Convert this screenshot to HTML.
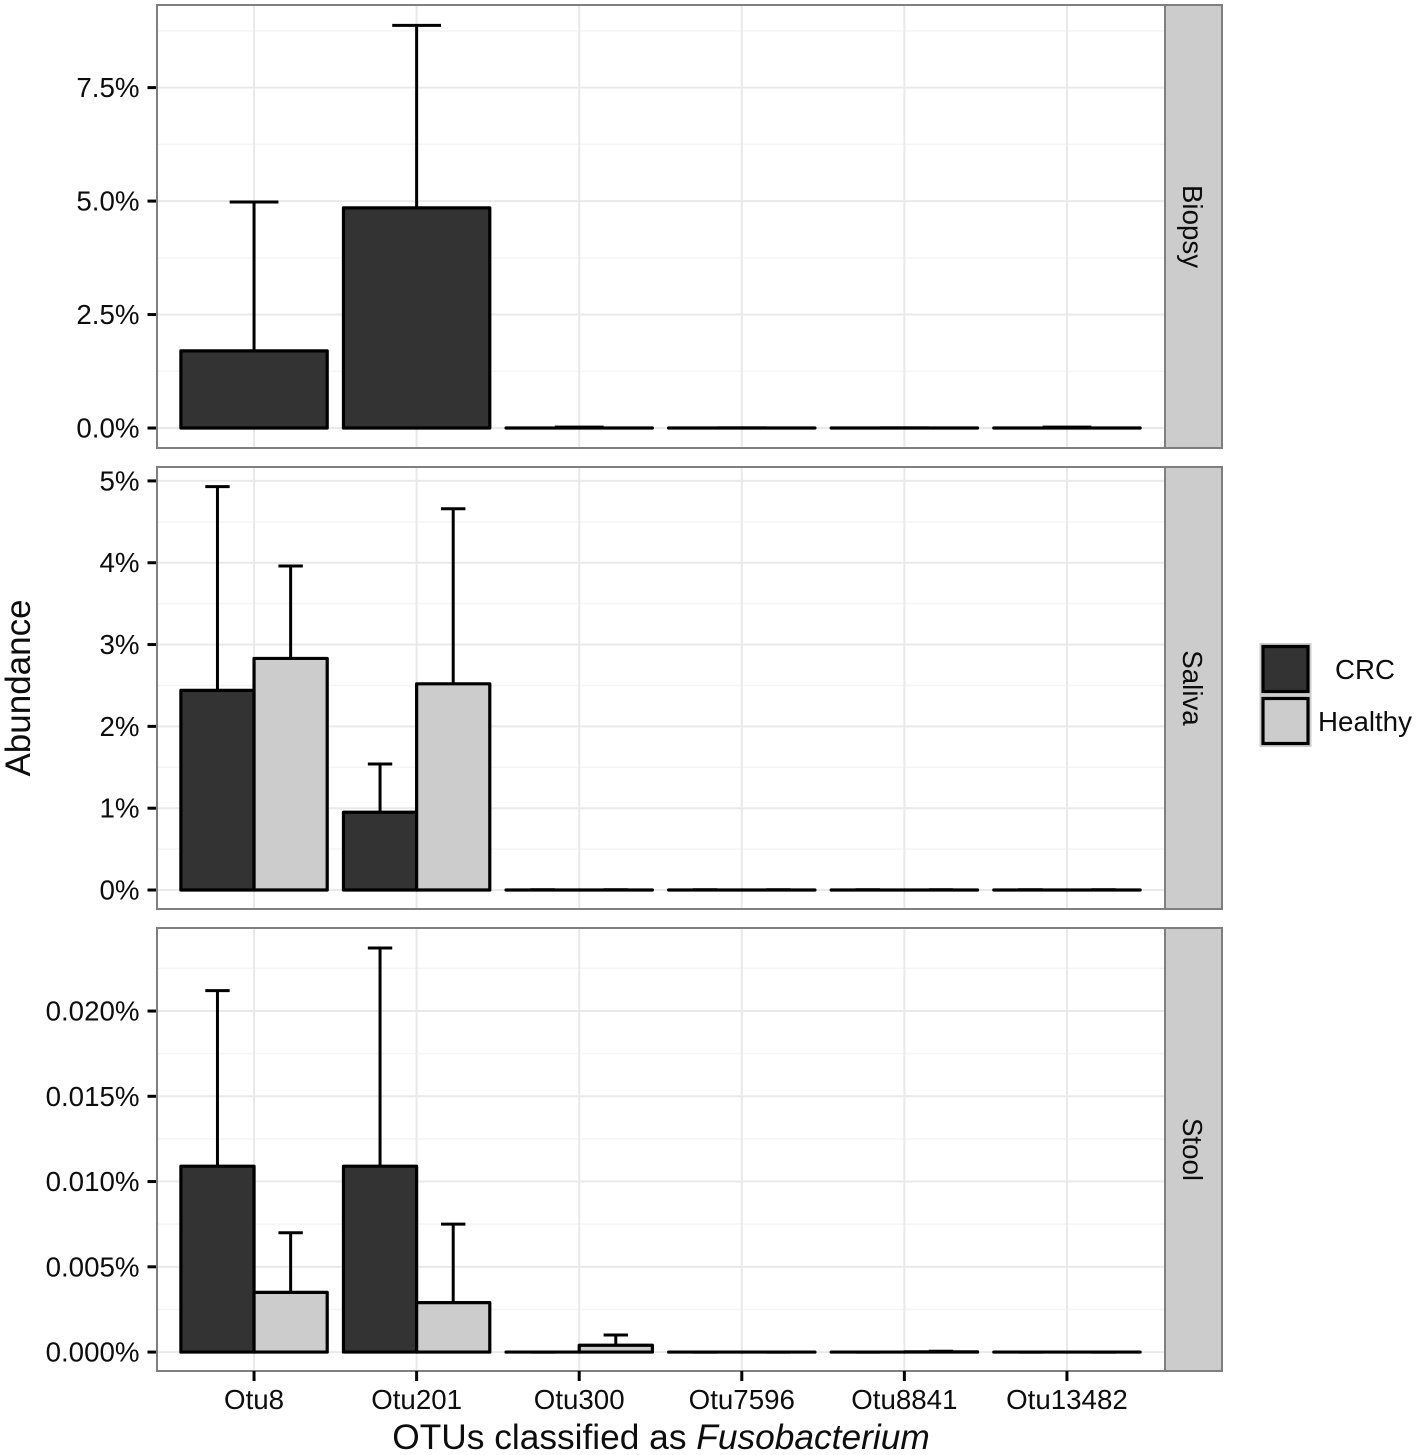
<!DOCTYPE html>
<html lang="en">
<head>
<meta charset="utf-8">
<title>Fusobacterium OTU abundance</title>
<style>
html,body{margin:0;padding:0;background:#fff;width:1417px;height:1455px;overflow:hidden}
svg{display:block}
text{font-family:"Liberation Sans",sans-serif;fill:#0d0d0d}
</style>
</head>
<body>
<svg id="chart" xmlns="http://www.w3.org/2000/svg" width="1417" height="1455" viewBox="0 0 1417 1455">
  <rect x="0" y="0" width="1417" height="1455" fill="#fff"/>
  <g id="panels"></g>
  <text transform="translate(30 688) rotate(-90)" text-anchor="middle" font-size="35">Abundance</text>
  <text x="661" y="1449" text-anchor="middle" font-size="35.3">OTUs classified as <tspan font-style="italic">Fusobacterium</tspan></text>
  <g>
    <rect x="1260.5" y="644" width="50" height="50" fill="#fff" stroke="#ccc" stroke-width="2"/>
    <rect x="1263" y="646.500" width="45" height="45" fill="#333" stroke="#000" stroke-width="3.2"/>
    <rect x="1260.5" y="696" width="50" height="50" fill="#fff" stroke="#ccc" stroke-width="2"/>
    <rect x="1263" y="698.500" width="45" height="45" fill="#ccc" stroke="#000" stroke-width="3.2"/>
    <text x="1365" y="679" text-anchor="middle" font-size="27.700">CRC</text>
    <text x="1365" y="731" text-anchor="middle" font-size="27.700">Healthy</text>
  </g>
</svg>
<script>
const categories = ["Otu8", "Otu201", "Otu300", "Otu7596", "Otu8841", "Otu13482"];

const biopsyCrc = [1.7, 4.85, 0.001, 0, 0, 0.001];
const biopsyCrcUpper = [4.98, 8.87, 0.02, 0.004, 0.004, 0.02];

const salivaCrc = [2.44, 0.95, 0.001, 0.001, 0.001, 0.001];
const salivaCrcUpper = [4.93, 1.54, 0.003, 0.003, 0.003, 0.003];
const salivaHealthy = [2.83, 2.52, 0.001, 0.001, 0.001, 0.001];
const salivaHealthyUpper = [3.96, 4.66, 0.003, 0.003, 0.003, 0.003];

const stoolCrc = [0.0109, 0.0109, 0, 0, 0, 0];
const stoolCrcUpper = [0.0212, 0.0237, 0, 0, 0, 0];
const stoolHealthy = [0.0035, 0.0029, 0.0004, 0, 0.00001, 0];
const stoolHealthyUpper = [0.0070, 0.0075, 0.0010, 0, 0.00005, 0];

const biopsyTicks = [0, 2.5, 5, 7.5];
const biopsyTickLabels = ["0.0%", "2.5%", "5.0%", "7.5%"];
const salivaTicks = [0, 1, 2, 3, 4, 5];
const salivaTickLabels = ["0%", "1%", "2%", "3%", "4%", "5%"];
const stoolTicks = [0, 0.005, 0.01, 0.015, 0.02];
const stoolTickLabels = ["0.000%", "0.005%", "0.010%", "0.015%", "0.020%"];

const panelNames = ["Biopsy", "Saliva", "Stool"];
const panelDomains = [[-0.44, 9.32], [-0.232, 5.17], [-0.00111, 0.02487]];

const series = [
  {crc: biopsyCrc, crcUp: biopsyCrcUpper, healthy: null, healthyUp: null, ticks: biopsyTicks, labels: biopsyTickLabels},
  {crc: salivaCrc, crcUp: salivaCrcUpper, healthy: salivaHealthy, healthyUp: salivaHealthyUpper, ticks: salivaTicks, labels: salivaTickLabels},
  {crc: stoolCrc, crcUp: stoolCrcUpper, healthy: stoolHealthy, healthyUp: stoolHealthyUpper, ticks: stoolTicks, labels: stoolTickLabels}
];

const NS = "http://www.w3.org/2000/svg";
const root = document.getElementById("panels");
const left = 157, right = 1165, stripRight = 1222;
const tops = [5, 467, 928], bottoms = [448, 909, 1371];
const unitWidth = (right - left) / 6.2;

function mk(tag, attrs, parent) {
  const el = document.createElementNS(NS, tag);
  for (const k in attrs) el.setAttribute(k, attrs[k]);
  parent.appendChild(el);
  return el;
}
function xScale(pos) {
  return left + (pos + 0.6) * unitWidth;
}

series.forEach(function (s, p) {
  const top = tops[p], bottom = bottoms[p];
  const dom = panelDomains[p];
  const yScale = function (v) {
    return bottom - (v - dom[0]) / (dom[1] - dom[0]) * (bottom - top);
  };
  const slug = panelNames[p].toLowerCase();

  const g = mk("g", {}, root);
  
  

  const bg = mk("rect", {x: left, y: top, width: right - left, height: bottom - top, fill: "#fff"}, g);
  
  

  const step = s.ticks[1] - s.ticks[0];
  for (let m = s.ticks[0] + step / 2; m < dom[1]; m += step) {
    const yy = yScale(m);
    const minor = mk("line", {x1: left, x2: right, y1: yy, y2: yy, stroke: "#f4f4f4", "stroke-width": 1.5}, g);
    
    
  }
  s.ticks.forEach(function (t, i) {
    const yy = yScale(t);
    const major = mk("line", {x1: left, x2: right, y1: yy, y2: yy, stroke: "#e9e9e9", "stroke-width": 2}, g);
    
    
    const tick = mk("line", {x1: 147.5, x2: left, y1: yy, y2: yy, stroke: "#000", "stroke-width": 3}, g);
    
    
    const label = mk("text", {x: 139.5, y: yy + 9.5, "text-anchor": "end", "font-size": 27.7}, g);
    label.textContent = s.labels[i];
    
    
  });
  categories.forEach(function (c, i) {
    const xx = xScale(i) - 0.5;
    const v = mk("line", {x1: xx, x2: xx, y1: top, y2: bottom, stroke: "#e9e9e9", "stroke-width": 2}, g);
    
    
  });

  const full = 0.9;
  const drawBar = function (value, upper, centre, width, fill, name) {
    const xc = xScale(centre) - 0.5;
    const stem = mk("line", {x1: xc, x2: xc, y1: yScale(value), y2: yScale(upper), stroke: "#000", "stroke-width": 3}, g);
    
    
    const w = width * unitWidth;
    const capHalf = w / 6;
    const cap = mk("line", {x1: xc - capHalf, x2: xc + capHalf, y1: yScale(upper), y2: yScale(upper), stroke: "#000", "stroke-width": 3}, g);
    
    
    const yTop = yScale(value), yZero = yScale(0);
    const x0 = xc - w / 2, x1 = xc + w / 2;
    const d = "M" + x0 + " " + yZero + "L" + x0 + " " + yTop + "L" + x1 + " " + yTop + "L" + x1 + " " + yZero + "Z";
    const bar = mk("path", {d: d, fill: fill, stroke: "#000", "stroke-width": 3.2, "stroke-linejoin": "round"}, g);
    
    
  };
  categories.forEach(function (c, i) {
    if (s.healthy) {
      drawBar(s.crc[i], s.crcUp[i], i - full / 4, full / 2, "#333", 'bar-' + slug + '-' + c.toLowerCase() + '-crc');
      drawBar(s.healthy[i], s.healthyUp[i], i + full / 4, full / 2, "#ccc", 'bar-' + slug + '-' + c.toLowerCase() + '-healthy');
    } else {
      drawBar(s.crc[i], s.crcUp[i], i, full, "#333", 'bar-' + slug + '-' + c.toLowerCase() + '-crc');
    }
  });

  const border = mk("rect", {x: left, y: top, width: right - left, height: bottom - top, fill: "none", stroke: "#7f7f7f", "stroke-width": 2}, g);
  
  

  const strip = mk("rect", {x: right, y: top, width: stripRight - right, height: bottom - top, fill: "#ccc", stroke: "#7f7f7f", "stroke-width": 2}, g);
  
  

  const stripLabel = mk("text", {transform: "translate(1183 " + ((top + bottom) / 2) + ") rotate(90)", "text-anchor": "middle", "font-size": 27.7, fill: "#1a1a1a"}, g);
  stripLabel.textContent = panelNames[p];
  
  
});

categories.forEach(function (c, i) {
  const xx = xScale(i) - 0.5;
  const tick = mk("line", {x1: xx, x2: xx, y1: 1371, y2: 1381, stroke: "#000", "stroke-width": 3}, root);
  
  
  const label = mk("text", {x: xx, y: 1409, "text-anchor": "middle", "font-size": 27.7}, root);
  label.textContent = c;
  
  
});
</script>
</body>
</html>
